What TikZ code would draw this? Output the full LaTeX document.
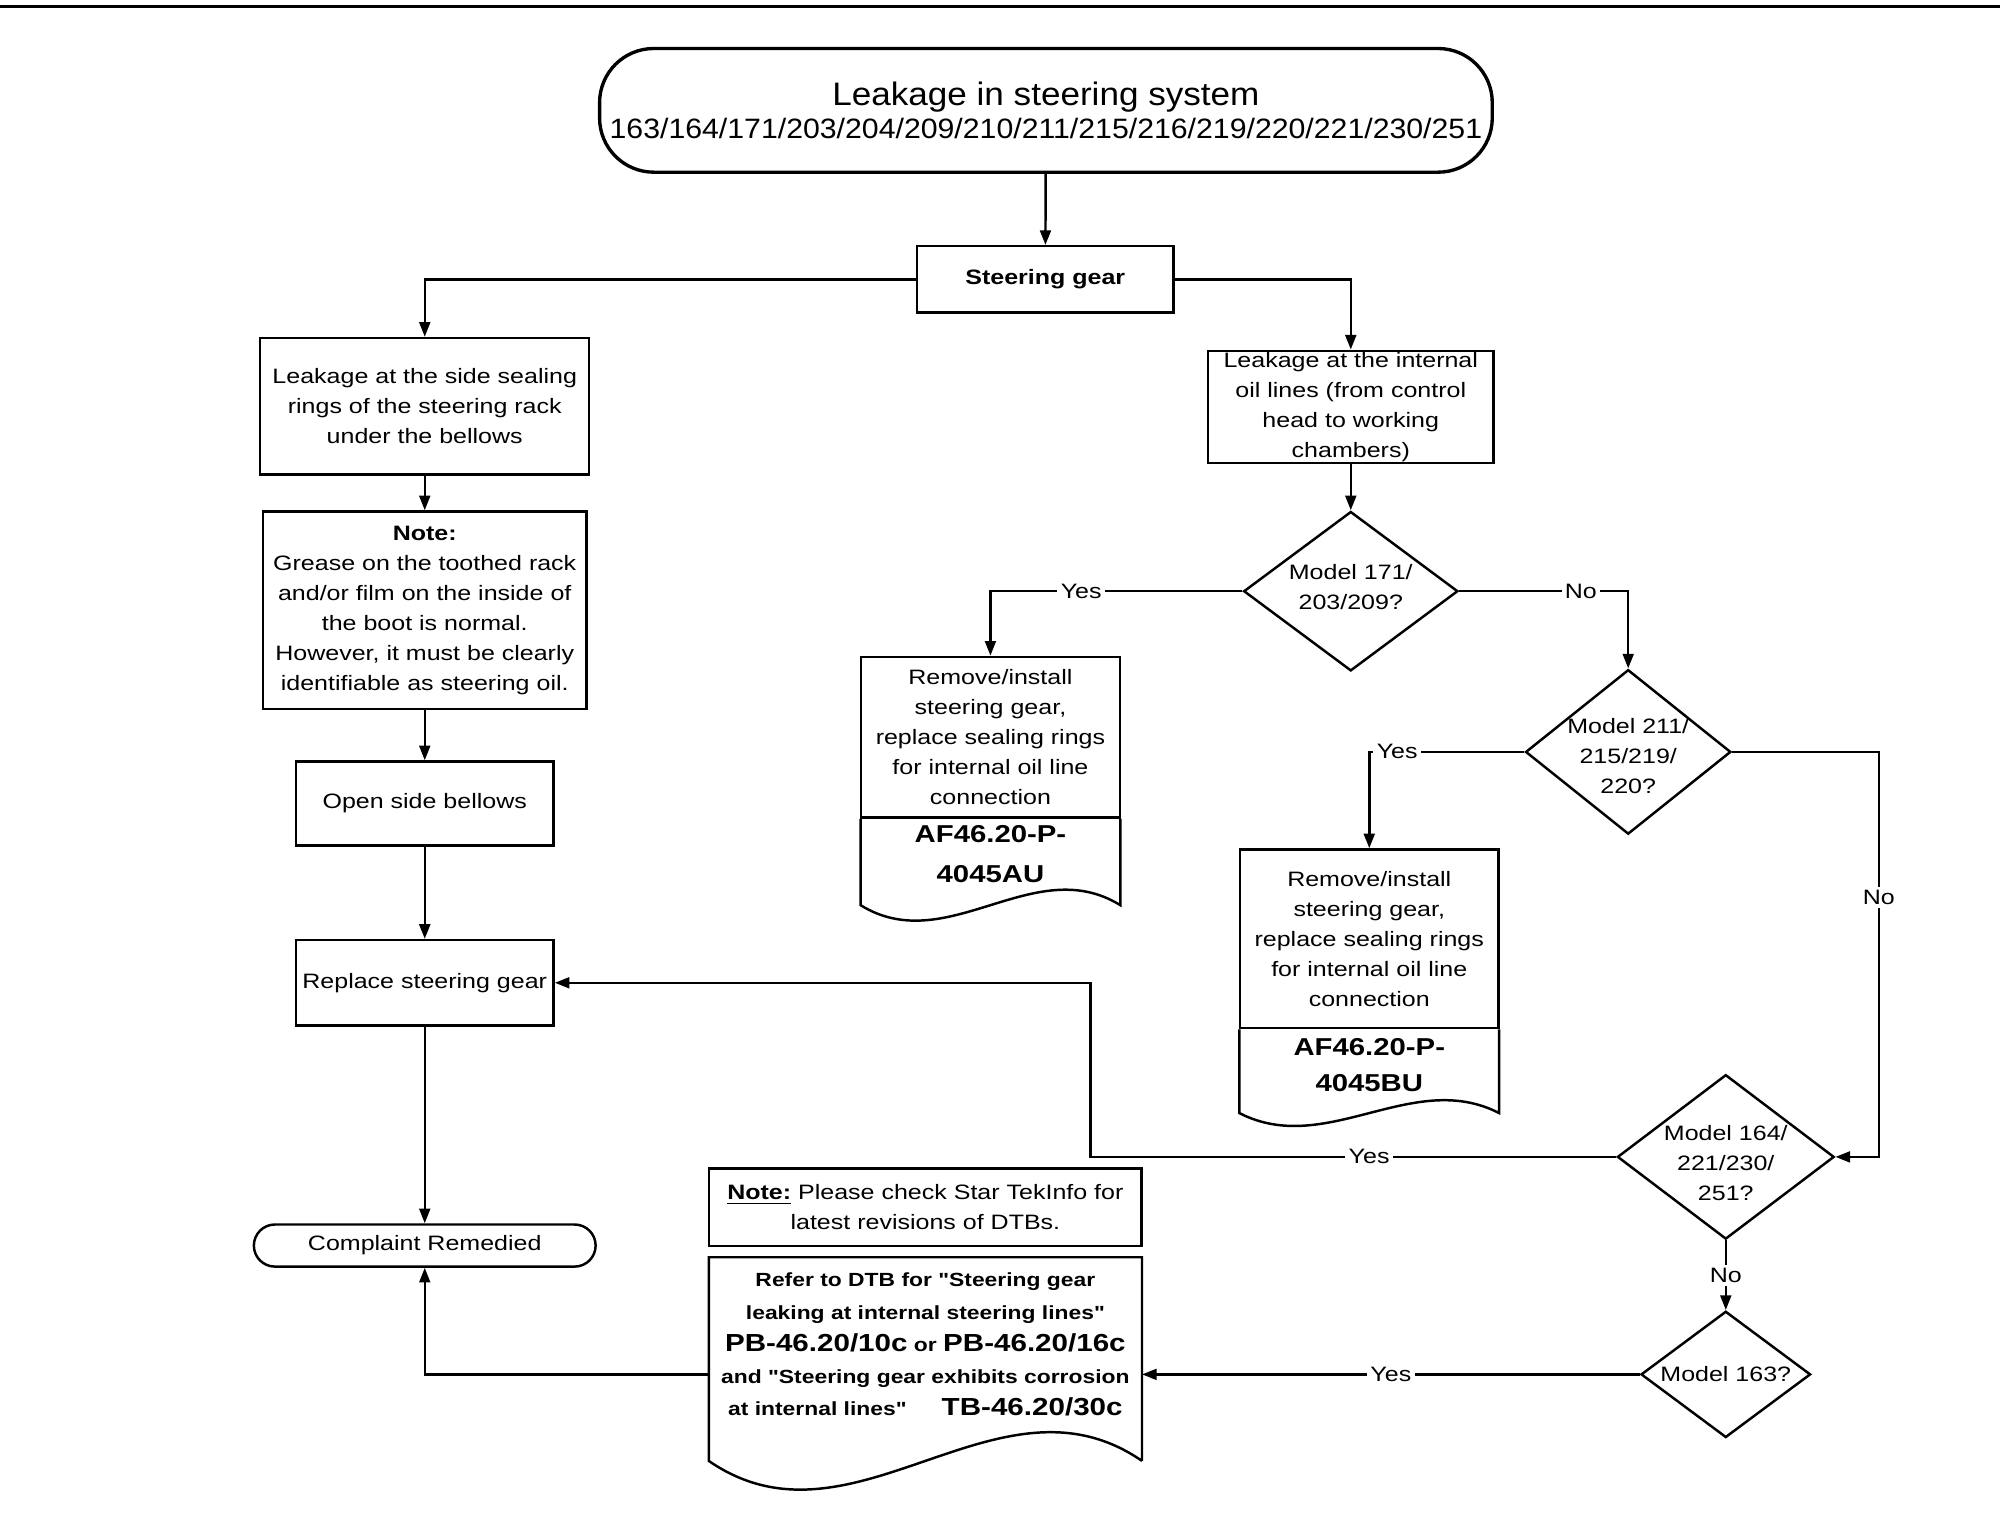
\documentclass[tikz,border=0pt]{standalone}
\usepackage{fontspec}
\setmainfont{Liberation Sans}[FakeStretch=1.2, Ligatures=TeXOff]
\newfontfamily\titlefont{Liberation Sans}[FakeStretch=1.08]
\usepackage{tikz}
\usetikzlibrary{
  positioning,
  calc,
  arrows.meta,
  shapes.geometric
}
\tikzset{
  box/.style={draw, line width=1.1pt, align=center, inner sep=0pt},
  dia/.style={draw, diamond, line width=1.1pt, inner sep=0pt},
  txt/.style={align=center, inner sep=0pt},
  lbl/.style={fill=white, inner sep=1.5pt},
  conn/.style={line width=1.1pt}
}
\newcommand{\refnum}[1]{{\fontsize{11}{14}\selectfont\bfseries #1}}

\begin{document}
\begin{tikzpicture}[x=0.02cm, y=-0.02cm, font=\fontsize{9.3}{13.4}\selectfont,
    >={Triangle[length=2.3mm, width=1.7mm]}]
      \useasboundingbox (0,0) rectangle (1568,1204);
      % 上端の罫線
      \draw[line width=1.6pt] (0,5) -- (1568,5);

      % 折れ線の曲がり角
      \coordinate (C1) at (1473,0);
      \coordinate (C2) at (855,0);

      % タイトル
      \node[box, line width=1.5pt, rounded corners=0.85cm, minimum width=14cm, minimum height=1.94cm,
        font=\titlefont\fontsize{14.5}{14.5}\selectfont] (title) at (820,86.5)
        {Leakage in steering system\\\fontsize{12.5}{14.5}\selectfont 163/164/171/203/204/209/210/211/215/216/219/220/221/230/251};
      % ステアリングギア
      \node[box, minimum width=4.02cm, minimum height=1.04cm, font=\fontsize{9.3}{13.4}\selectfont\bfseries] (steer) at (819.5,219) {Steering gear};

      % 左の列
      \node[box, minimum width=5.16cm, minimum height=2.14cm] (side) at (333,318.5)
        {Leakage at the side sealing\\rings of the steering rack\\under the bellows};
      \node[box, minimum width=5.08cm, minimum height=3.1cm] (note1) at (333,478.5)
        {\textbf{Note:}\\Grease on the toothed rack\\and/or film on the inside of\\the boot is normal.\\However, it must be clearly\\identifiable as steering oil.};
      \node[box, minimum width=4.04cm, minimum height=1.32cm] (bellows) at (333,630) {Open side bellows};
      \node[box, minimum width=4.04cm, minimum height=1.34cm] (replace) at (333,770.5) {Replace steering gear};
      \node[box, rounded corners=0.33cm, minimum width=5.36cm, minimum height=0.66cm] (remedied) at (333,976.5) {Complaint Remedied};

      % 右の列
      \node[box, minimum width=4.48cm, minimum height=1.76cm] (internal) at (1059,319)
        {Leakage at the internal\\oil lines (from control\\head to working\\chambers)};
      \node[dia, minimum width=3.36cm, minimum height=2.5cm] (q171) at (1059,463.5) {};
      \node[txt] (q171t) at ($(q171)+(0,-3)$) {Model 171/\\203/209?};
      \node[dia, minimum width=3.22cm, minimum height=2.58cm] (q211) at (1276.5,589.5) {};
      \node[txt] (q211t) at ($(q211)+(0,3)$) {Model 211/\\215/219/\\220?};
      \node[dia, minimum width=3.4cm, minimum height=2.58cm] (q164) at (1353,907) {};
      \node[txt] (q164t) at ($(q164)+(0,5)$) {Model 164/\\221/230/\\251?};
      \node[dia, minimum width=2.66cm, minimum height=1.98cm] (q163) at (1353,1077.5) {};
      \node[txt] (q163t) at (q163) {Model 163?};

      % 作業指示 AF46.20-P-4045AU
      \node[box, minimum width=4.06cm, minimum height=2.52cm] (au) at (776.5,578)
        {Remove/install\\steering gear,\\replace sealing rings\\for internal oil line\\connection};
      \node[txt, minimum width=4.06cm, minimum height=1.34cm, below=0pt of au, text depth=0.25cm,
        font=\fontsize{10.9}{18}\selectfont\bfseries] (auref) {AF46.20-P-\\4045AU};
      \draw[conn] (auref.north west) -- (auref.south west) .. controls +(68,42) and +(-68,-42) .. (auref.south east) -- (auref.north east);

      % 作業指示 AF46.20-P-4045BU
      \node[box, minimum width=4.06cm, minimum height=2.8cm] (bu) at (1073.5,736)
        {Remove/install\\steering gear,\\replace sealing rings\\for internal oil line\\connection};
      \node[txt, minimum width=4.06cm, minimum height=1.3cm, below=0pt of bu, text depth=0.2cm,
        font=\fontsize{10.9}{16}\selectfont\bfseries] (buref) {AF46.20-P-\\4045BU};
      \draw[conn] (buref.north west) -- (buref.south west) .. controls +(68,35) and +(-68,-35) .. (buref.south east) -- (buref.north east);

      % 注意書きとDTB
      \node[box, minimum width=6.78cm, minimum height=1.22cm] (note2) at (725.5,946.5)
        {\underline{\textbf{Note:}} Please check Star TekInfo for\\latest revisions of DTBs.};
      \node[minimum width=6.78cm, minimum height=3.18cm, inner sep=0pt] (dtb) at (725.5,1065.5) {};
      \draw[conn] (dtb.south east) -- (dtb.north east) -- (dtb.north west) -- (dtb.south west)
        .. controls +(113,78) and +(-113,-78) .. (dtb.south east);
      \node[txt, font=\fontsize{8.5}{14.3}\selectfont\bfseries] (dtbt) at (725.5,1054)
        {Refer to DTB for "Steering gear\\leaking at internal steering lines"\\
         \refnum{PB-46.20/10c} or \refnum{PB-46.20/16c}\\
         and "Steering gear exhibits corrosion\\
         at internal lines"\hspace{0.55cm}\refnum{TB-46.20/30c}};

      % 左側の接続
      \draw[conn, ->] (title) -- (steer);
      \draw[conn, ->] (steer.west) -| (side.north);
      \draw[conn, ->] (side) -- (note1);
      \draw[conn, ->] (note1) -- (bellows);
      \draw[conn, ->] (bellows) -- (replace);
      \draw[conn, ->] (replace) -- (remedied);

      % 右側の接続
      \draw[conn, ->] (steer.east) -| (internal.north);
      \draw[conn, ->] (internal) -- (q171);
      \draw[conn, ->] (q171.west) -| node[lbl, pos=0.32] {Yes} (au.north);
      \draw[conn, ->] (q171.east) -| node[lbl, pos=0.36] {No} (q211.north);
      \draw[conn, ->] (q211.west) -| node[lbl, pos=0.41] {Yes} (bu.north);
      \draw[conn, ->] (q211.east) -- (q211.east -| C1) |- node[lbl, pos=0.18] {No} (q164.east);
      \draw[conn, ->] (q164.west) -- node[lbl, pos=0.47] {Yes} (q164.west -| C2) |- (replace.east);
      \draw[conn, ->] (q164.south) -- node[lbl] {No} (q163.north);
      \draw[conn, ->] (q163.west) -- node[lbl] {Yes} (dtb.east |- q163.west);
      \draw[conn, ->] (dtb.west |- q163.west) -| (remedied.south);
\end{tikzpicture}
\end{document}
